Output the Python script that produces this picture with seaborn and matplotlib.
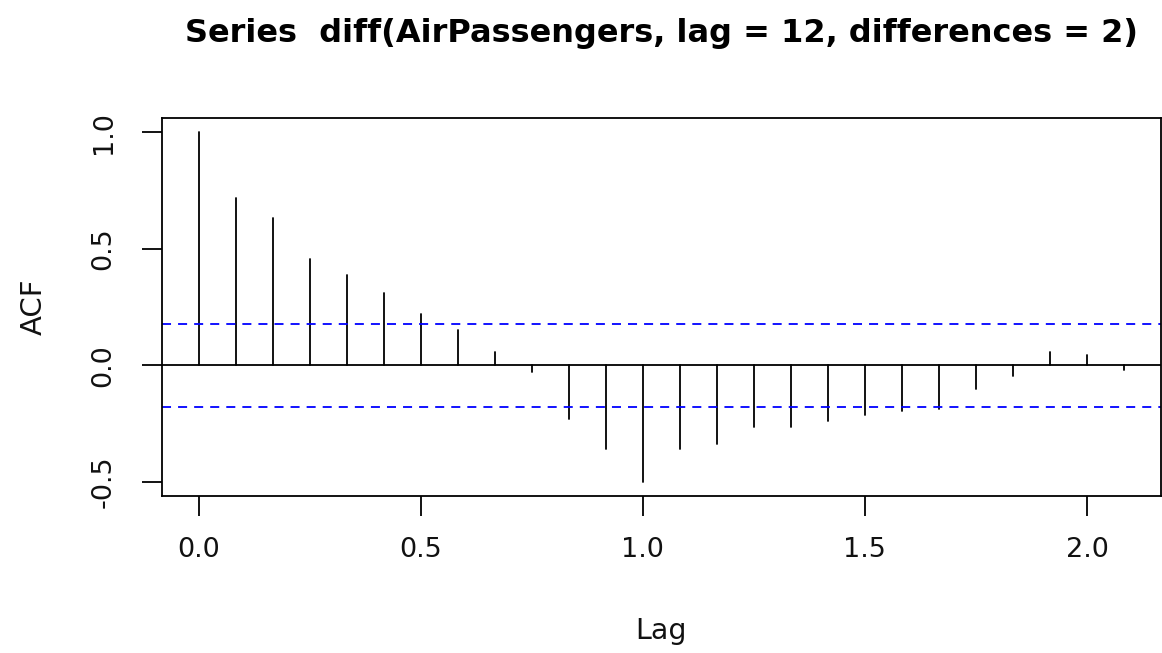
import numpy as np
import pandas as pd
import seaborn as sns
import matplotlib
matplotlib.use("Agg")
import matplotlib.pyplot as plt

# ---- data ----
lag_months = [0, 1, 2, 3, 4, 5, 6, 7, 8, 9, 10, 11, 12,
              13, 14, 15, 16, 17, 18, 19, 20, 21, 22, 23, 24, 25]
acf_values = [1.000, 0.718, 0.632, 0.456, 0.389, 0.310, 0.222, 0.153, 0.057,
              -0.030, -0.230, -0.360, -0.500, -0.360, -0.336, -0.266, -0.266,
              -0.240, -0.215, -0.197, -0.187, -0.100, -0.047, 0.055, 0.046, -0.022]
ci_bound = 0.179
x_ticks = [0.0, 0.5, 1.0, 1.5, 2.0]
y_ticks = [-0.5, 0.0, 0.5, 1.0]
title = "Series  diff(AirPassengers, lag = 12, differences = 2)"

sns.set_theme(style="ticks")
plt.rcParams['font.family'] = ['DejaVu Sans']

lags = np.array(lag_months) / 12.0
# long-form frame: each lag is a vertical segment from 0 to its ACF value
df = pd.DataFrame({
    "lag": np.repeat(lags, 2),
    "acf": np.ravel(np.column_stack([np.zeros(len(acf_values)), acf_values])),
    "unit": np.repeat(lag_months, 2),
})

W, H = 1162, 653
fig = plt.figure(figsize=(W / 100, H / 100), dpi=100)
left, right, top, bottom = 161.7, 1161.0, 118.3, 495.7
ax = fig.add_axes([left / W, 1 - bottom / H, (right - left) / W, (bottom - top) / H])

sns.lineplot(data=df, x="lag", y="acf", units="unit", estimator=None,
             color="black", linewidth=1.3, ax=ax, legend=False)
ax.axhline(0, color="black", linewidth=1.3)
for b in (ci_bound, -ci_bound):
    ax.axhline(b, color="#0000FF", linewidth=1.3, dashes=(5, 3.9))

ax.set_xlim(-0.0833, 2.1667)
ax.set_ylim(-0.56, 1.06)
ax.set_xticks(x_ticks)
ax.set_xticklabels([f"{v:.1f}" for v in x_ticks])
ax.set_yticks(y_ticks)
ax.set_yticklabels([f"{v:.1f}" for v in y_ticks], rotation=90, va="center")
ax.tick_params(axis="both", direction="out", length=14.4, width=1.3,
               color="black", labelsize=19.5, labelcolor="#111111")
ax.tick_params(axis="x", pad=15)
ax.tick_params(axis="y", pad=18)
for s in ax.spines.values():
    s.set_visible(True)
    s.set_color("black")
    s.set_linewidth(1.3)
ax.set_facecolor("white")
ax.grid(False)

ax.set_xlabel("Lag", fontsize=20.5, labelpad=39, color="#111111")
ax.set_ylabel("ACF", fontsize=21, labelpad=31, color="#111111")
ax.set_title(title, fontsize=23, fontweight="bold", pad=55, color="black")

fig.savefig("out.png", dpi=100, facecolor="white")
